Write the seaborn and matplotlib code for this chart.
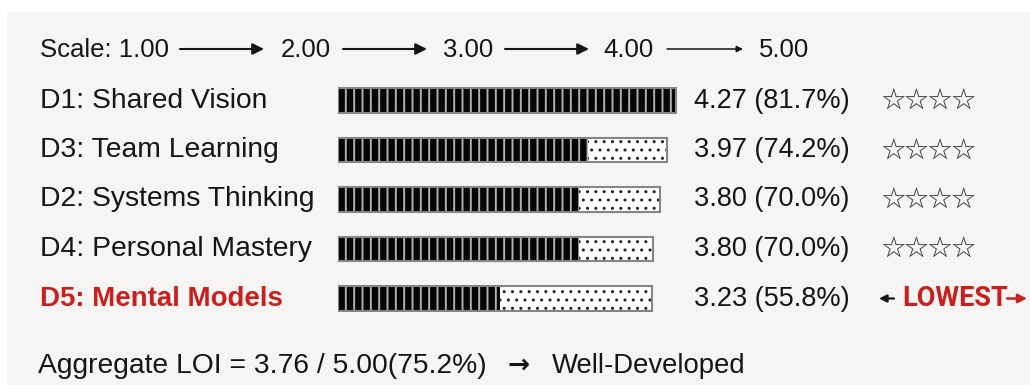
import matplotlib
matplotlib.use("Agg")
import matplotlib.pyplot as plt
import seaborn as sns
import pandas as pd
from matplotlib.patches import Rectangle

# ---------------- data ----------------
dims = ["D1: Shared Vision", "D3: Team Learning", "D2: Systems Thinking",
        "D4: Personal Mastery", "D5: Mental Models"]
scores = [4.27, 3.97, 3.80, 3.80, 3.23]
pcts = [81.7, 74.2, 70.0, 70.0, 55.8]
# bar lengths as drawn in the picture (filled part and outer frame)
fill_len = [338, 250, 241, 241, 162]
frame_len = [338, 329, 322, 315, 314]
ratings = ["☆☆☆☆", "☆☆☆☆", "☆☆☆☆", "☆☆☆☆", None]
lowest_flag = [False, False, False, False, True]
scale_vals = [1.00, 2.00, 3.00, 4.00, 5.00]
agg_score, agg_max, agg_pct, agg_label = 3.76, 5.00, 75.2, "Well-Developed"

df = pd.DataFrame({"dim": dims, "fill": fill_len, "frame": frame_len})

# ---------------- style ----------------
sns.set_theme(style="white")
plt.rcParams["font.family"] = ["Liberation Sans", "DejaVu Sans"]
plt.rcParams["hatch.linewidth"] = 1.5

INK = "#151515"
RED = "#c8201e"
BG = "#f6f5f3"

W, H = 1030, 385
fig = plt.figure(figsize=(W / 100, H / 100), dpi=100)
fig.patch.set_facecolor("white")

ax = fig.add_axes([0, 0, 1, 1])
ax.set_xlim(0, W)
ax.set_ylim(H, 0)
ax.axis("off")
ax.add_patch(Rectangle((7, 12), W, H, facecolor=BG, edgecolor="none", zorder=0))

# ---------------- bars ----------------
row_c = [100.5, 150.0, 199.5, 248.5, 298.5]
step = 49.5
top = row_c[0] - step / 2
bot = row_c[-1] + step / 2
bx0, bw = 338, 362
axb = fig.add_axes([bx0 / W, 1 - bot / H, bw / W, (bot - top) / H])
axb.patch.set_alpha(0)


def hatch_lw(p, lw):
    try:
        p.set_hatch_linewidth(lw)
    except AttributeError:
        pass


# empty (dotted) frame
sns.barplot(data=df, x="frame", y="dim", orient="h", ax=axb, color="white",
            saturation=1, width=0.505, errorbar=None)
for p in axb.containers[-1]:
    p.set(facecolor="white", edgecolor="#222222", linewidth=0, hatch="..")
    hatch_lw(p, 1.0)
# filled (striped) portion
sns.barplot(data=df, x="fill", y="dim", orient="h", ax=axb, color="black",
            saturation=1, width=0.505, errorbar=None)
for p in axb.containers[-1]:
    p.set(facecolor="#050505", edgecolor="#b0b0b0", linewidth=0, hatch="||")
    hatch_lw(p, 1.4)
# outline
sns.barplot(data=df, x="frame", y="dim", orient="h", ax=axb, color="white",
            saturation=1, width=0.505, errorbar=None)
for p in axb.containers[-1]:
    p.set(facecolor="none", edgecolor="#858585", linewidth=1.5, hatch=None)

axb.set_xlim(0, bw)
axb.set_ylim(len(dims) - 0.5, -0.5)
axb.axis("off")

# ---------------- scale line ----------------
sy = 50
scale_x = [40, 281, 443, 603, 759]
arrows = [(180, 264), (343, 427), (505, 589), (667, 743)]
for i, v in enumerate(scale_vals):
    txt = f"{v:.2f}" if i else f"Scale: {v:.2f}"
    ax.text(scale_x[i], sy, txt, fontsize=18.5, color=INK, ha="left", va="center")
for i, (a, b) in enumerate(arrows):
    last = i == len(arrows) - 1
    ax.annotate("", xy=(b, sy - 1), xytext=(a, sy - 1),
                arrowprops=dict(arrowstyle="-|>", color=INK,
                                lw=1.1 if last else 1.5,
                                mutation_scale=9 if last else 17,
                                shrinkA=0, shrinkB=0))

# ---------------- rows ----------------
for i, d in enumerate(dims):
    y = row_c[i]
    low = lowest_flag[i]
    ax.text(40, y, d, fontsize=19.9 if low else 20.3, color=RED if low else INK,
            fontweight="bold" if low else "normal", ha="left", va="center")
    ax.text(694, y, f"{scores[i]:.2f} ({pcts[i]:.1f}%)", fontsize=19.5,
            color=INK, ha="left", va="center")
    if ratings[i]:
        ax.text(881, y + 1, ratings[i], fontsize=17, color="#333333", ha="left",
                va="center", family=["Noto Sans CJK JP", "DejaVu Sans"])
    if low:
        ax.annotate("", xy=(879, y), xytext=(894, y),
                    arrowprops=dict(arrowstyle="-|>", color=INK, lw=1.6,
                                    mutation_scale=11, shrinkA=0, shrinkB=0))
        ax.text(902, y, "LOWEST", fontsize=19.5, color=RED, ha="left", va="center",
                fontweight="bold", family=["Roboto", "Liberation Sans"])
        ax.annotate("", xy=(1027, y), xytext=(1007, y),
                    arrowprops=dict(arrowstyle="-|>", color=RED, lw=1.8,
                                    mutation_scale=13, shrinkA=0, shrinkB=0))

# ---------------- aggregate ----------------
ay = 366
ax.text(38, ay, f"Aggregate LOI = {agg_score:.2f} / {agg_max:.2f}({agg_pct:.1f}%)",
        fontsize=20.3, color=INK, ha="left", va="center")
ax.text(519, ay, "\u2192", fontsize=19, color=INK, ha="center", va="center",
        fontweight="bold", family=["DejaVu Sans"])
ax.text(552, ay, agg_label, fontsize=19.8, color=INK, ha="left", va="center")

fig.savefig("out.png", dpi=100, facecolor=fig.get_facecolor())
